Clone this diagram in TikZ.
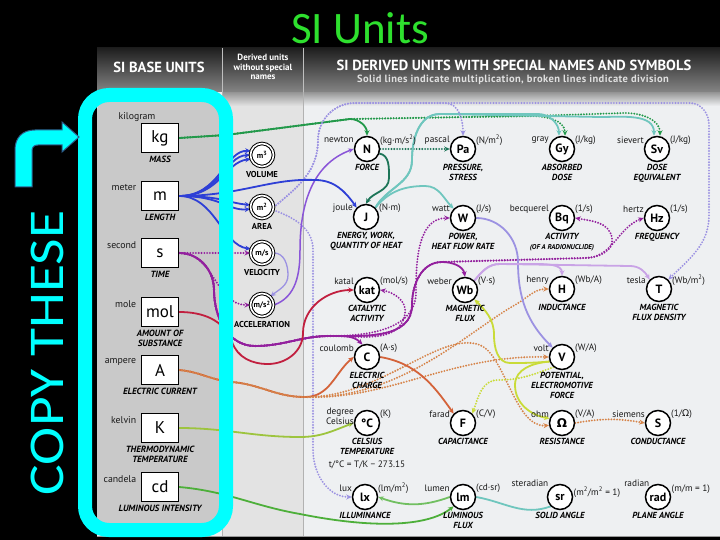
\documentclass[tikz,border=0pt]{standalone}
\usepackage{fontspec}
\setmainfont{PT Sans}
\newfontfamily\titlefont{Carlito}
\newfontfamily\symfont{DejaVu Sans}
\newfontfamily\subfont[LetterSpace=4]{PT Sans}
\usetikzlibrary{arrows.meta,calc}
\pgfdeclarelayer{bg}\pgfdeclarelayer{edges}\pgfdeclarelayer{front}
\pgfsetlayers{bg,edges,main,front}
\definecolor{kggreen}{HTML}{22994A}
\definecolor{ngreen}{HTML}{1D7558}
\definecolor{mblue}{HTML}{2E3FD6}
\definecolor{spurple}{HTML}{93209E}
\definecolor{molred}{HTML}{C11F3F}
\definecolor{aorange}{HTML}{D4633A}
\definecolor{aodot}{HTML}{D6844A}
\definecolor{kgrn}{HTML}{9DC43E}
\definecolor{cdgrn}{HTML}{4DAF3A}
\definecolor{lav}{HTML}{9C92E2}
\definecolor{accp}{HTML}{8A55D8}
\definecolor{tealc}{HTML}{6FC6BE}
\definecolor{lilac}{HTML}{C9A3E6}
\definecolor{yelc}{HTML}{C9DB38}
\definecolor{titlegreen}{HTML}{2EE02E}
\definecolor{cyanf}{HTML}{00FFFF}
\definecolor{arrowedge}{HTML}{2C5E8C}
\definecolor{leftgray}{HTML}{C9C9C9}
\definecolor{midgray}{HTML}{E3E3E3}
\definecolor{rightgray}{HTML}{EEF0F2}
\tikzset{
  tipa/.style={-{Stealth[length=5.5pt,width=5pt]}},
  sol/.style={line width=1.8pt, tipa},
  dots/.style={line width=2.1pt, line cap=round, dash pattern=on 0pt off 2.8pt, tipa},
  lbl/.style={font=\fontsize{9.3}{10}\selectfont, text=black!90, inner sep=0.5pt},
  qty/.style={font=\fontsize{8.8}{10}\selectfont\bfseries\itshape, align=center, inner sep=0pt, text=black},
  sunit/.style={circle, draw, line width=1.5pt, fill=white, minimum size=25pt, inner sep=0pt, font=\fontsize{12}{12}\selectfont\bfseries},
  dunit/.style={circle, draw, double, double distance=1.6pt, line width=1pt, fill=white, minimum size=23pt, inner sep=0pt, font=\fontsize{8}{8}\selectfont\bfseries},
  dlab/.style={font=\fontsize{8.6}{9}\selectfont\bfseries, inner sep=0pt, text=black},
  bunit/.style={rectangle, draw, line width=1.2pt, fill=white, minimum width=37pt, minimum height=29pt, inner sep=0pt, font=\fontsize{17}{17}\selectfont},
  hdr/.style={font=\fontsize{14.6}{15}\selectfont\bfseries, text=white},
  hdrs/.style={font=\fontsize{9}{9.5}\selectfont\bfseries, text=white, align=center},
}
\newcommand\SU[7]{%
  \node[sunit] (#1) at (#2,#3) {#4};
  \node[lbl, anchor=east] (#1-l) at ($(#1)+(-12.5,-9)$) {#5};
  \node[lbl, anchor=west] (#1-r) at ($(#1)+(12.5,-9)$) {#6};
  \node[qty, anchor=north] (#1-q) at ($(#1)+(0,15.5)$) {#7};
}
\newcommand\BU[5]{%
  \node[bunit] (#1) at (160,#2) {#3};
  \node[lbl, anchor=east, font=\fontsize{9.8}{10}\selectfont] (#1-l) at ($(#1.north west)+(-4,7)$) {#4};
  \node[qty, anchor=north, font=\fontsize{9}{10}\selectfont\bfseries\itshape] (#1-q) at ($(#1.south)+(0,2.5)$) {#5};
}
\newcommand\DU[4]{%
  \node[dunit] (#1) at (262,#2) {#3};
  \node[dlab, anchor=north] (#1-q) at ($(#1)+(0,16)$) {#4};
}
\begin{document}
\begin{tikzpicture}[x=1pt,y=-1pt]
\useasboundingbox (0,0) rectangle (720,540);
\begin{pgfonlayer}{bg}
\fill[black] (0,0) rectangle (720,540);
\fill[rightgray] (97,48) rectangle (720,536);
\fill[midgray] (222,92) rectangle (303,536);
\shade[top color=black!42, bottom color=rightgray] (303,92) rectangle (720,106);
\shade[top color=black!42, bottom color=midgray] (222,92) rectangle (303,106);
\draw[black!30, line width=0.8pt] (222,92) -- (222,536) (303,92) -- (303,536);
\fill[leftgray, rounded corners=12pt] (97,98) rectangle (224,530);
\shade[top color=black!88, bottom color=black!48] (97,48) rectangle (720,92);
\draw[black!25, line width=0.8pt] (222,48) -- (222,92) (303,48) -- (303,92);
\draw[black!40, line width=1pt] (97,536) -- (720,536);
\end{pgfonlayer}
% title
\node[font=\titlefont\fontsize{45}{45}\selectfont, text=titlegreen, inner sep=0pt] (title) at (360,28) {SI Units};
% header
\node[hdr] (h1) at (159,67) {SI BASE UNITS};
\node[hdrs] (h2) at (263,67) {Derived units\\without special\\names};
\node[hdr] (h3) at (514,65.5) {SI DERIVED UNITS WITH SPECIAL NAMES AND SYMBOLS};
\node[font=\subfont\fontsize{10.5}{11}\selectfont\bfseries, text=black!12] (h4) at (513,79.5) {Solid lines indicate multiplication, broken lines indicate division};
% base units
\BU{kg}{138}{kg}{}{MASS}
\node[lbl, font=\fontsize{9.8}{10}\selectfont] (kg-l2) at (137,117) {kilogram};
\BU{m}{196}{m}{meter}{LENGTH}
\BU{s}{253}{s}{second}{TIME}
\BU{mol}{312}{mol}{mole}{AMOUNT OF\\SUBSTANCE}
\BU{A}{370}{A}{ampere}{ELECTRIC CURRENT}
\BU{K}{428}{K}{kelvin}{THERMODYNAMIC\\TEMPERATURE}
\BU{cd}{487}{cd}{candela}{LUMINOUS INTENSITY}
% derived without special names
\DU{vol}{155}{m\textsuperscript{3}}{VOLUME}
\DU{area}{207}{m\textsuperscript{2}}{AREA}
\DU{vel}{253}{m/s}{VELOCITY}
\DU{acc}{305}{m/s\textsuperscript{2}}{ACCELERATION}
% special names
\SU{N}{367}{149}{N}{newton}{(kg·m/s\textsuperscript{2})}{FORCE}
\SU{Pa}{463}{149}{Pa}{pascal}{(N/m\textsuperscript{2})}{PRESSURE,\\STRESS}
\SU{Gy}{562}{149}{Gy}{gray}{(J/kg)}{ABSORBED\\DOSE}
\SU{Sv}{657}{149}{Sv}{sievert}{(J/kg)}{DOSE\\EQUIVALENT}
\SU{J}{366}{217}{J}{joule}{(N·m)}{ENERGY, WORK,\\QUANTITY OF HEAT}
\SU{W}{463}{218}{W}{watt}{(J/s)}{POWER,\\HEAT FLOW RATE}
\SU{Bq}{562}{218}{Bq}{becquerel}{(1/s)}{ACTIVITY\\{\fontsize{7}{8}\selectfont(OF A RADIONUCLIDE)}}
\SU{Hz}{657}{218}{Hz}{hertz}{(1/s)}{FREQUENCY}
\SU{kat}{367}{290}{kat}{katal}{(mol/s)}{CATALYTIC\\ACTIVITY}
\SU{Wb}{465}{290}{Wb}{weber}{(V·s)}{MAGNETIC\\FLUX}
\SU{H}{562}{289}{H}{henry}{(Wb/A)}{INDUCTANCE}
\SU{T}{659}{289}{T}{tesla}{(Wb/m\textsuperscript{2})}{MAGNETIC\\FLUX DENSITY}
\SU{C}{367}{357}{C}{coulomb}{(A·s)}{ELECTRIC\\CHARGE}
\SU{V}{562}{357}{V}{volt}{(W/A)}{POTENTIAL,\\ELECTROMOTIVE\\FORCE}
\SU{degC}{367}{423}{°C}{}{(K)}{CELSIUS\\TEMPERATURE}
\node[lbl, anchor=east, align=right, font=\fontsize{9.3}{9.5}\selectfont] (degC-l2) at ($(degC)+(-12.5,-6.5)$) {degree\\Celsius};
\node[lbl] (degC-f) at (367,465) {t/°C = T/K − 273.15};
\SU{F}{463}{423}{F}{farad}{(C/V)}{CAPACITANCE}
\SU{Ohm}{562}{423}{{\symfont\bfseries Ω}}{ohm}{(V/A)}{RESISTANCE}
\SU{S}{658}{423}{S}{siemens}{(1/{\symfont Ω})}{CONDUCTANCE}
\SU{lx}{365}{497}{lx}{lux}{(lm/m\textsuperscript{2})}{ILLUMINANCE}
\SU{lm}{463}{497}{lm}{lumen}{(cd·sr)}{LUMINOUS\\FLUX}
\SU{sr}{560}{497}{sr}{}{}{SOLID ANGLE}
\node[lbl, anchor=east] (sr-l2) at (549,483) {steradian};
\node[lbl, anchor=west] (sr-r2) at (573,492) {(m\textsuperscript{2}/m\textsuperscript{2} = 1)};
\SU{rad}{658}{497}{rad}{}{}{PLANE ANGLE}
\node[lbl, anchor=east] (rad-l2) at (650,483) {radian};
\node[lbl, anchor=west] (rad-r2) at (671,489) {(m/m = 1)};
% connectors
\begin{pgfonlayer}{edges}
% kg
\draw[sol, kggreen] (kg.east) -- (226,135) -- (350,119) to[out=0,in=90] (N.north);
\draw[dots, kggreen] (kg.east) -- (226,135) -- (350,119) -- (530,116) to[out=0,in=90] ([xshift=3pt]Gy.north);
\draw[dots, kggreen] (kg.east) -- (226,135) -- (350,119) -- (530,116) -- (625,113) to[out=0,in=90] ([xshift=3pt]Sv.north);
% N
\draw[dots, ngreen] (N.east) -- (Pa.west);
\draw[sol, ngreen] (N.-20) to[out=-10,in=90] (389,178) to[out=-90,in=60] (J.north);
% J teal
\draw[sol, tealc] (J.45) to[out=60,in=-90] (412,160) to[out=90,in=180] (440,114) -- (538,114) to[out=0,in=90] ([xshift=-3pt]Gy.north);
\draw[sol, tealc] (J.45) to[out=60,in=-90] (412,160) to[out=90,in=180] (440,114) -- (600,117) to[out=0,in=90] ([xshift=-3pt]Sv.north);
\draw[sol, tealc] (J.45) to[out=50,in=180] (425,186) to[out=0,in=135] (W.north west);
% area lavender dotted
\draw[dots, lav] (area.east) to[out=40,in=-90] (318,140) to[out=90,in=180] (355,103) -- (445,103) to[out=0,in=90] (Pa.north);
\draw[dots, lav] (area.east) to[out=40,in=-90] (318,140) to[out=90,in=180] (355,103) -- (690,103) to[out=0,in=90] (709,125) -- (709,215) to[out=-90,in=45] (T.north east);
\draw[dots, lav] (area.-15) to[out=-20,in=90] (313,250) -- (313,450) to[out=-90,in=180] (lx.west);
% velocity, acceleration
\draw[sol, lav, line width=1.3pt] (vel.east) to[out=0,in=90] (288,275) to[out=-90,in=40] (acc.north east);
\draw[sol, accp, line width=1.5pt] (acc.east) to[out=20,in=-90] (300,250) to[out=90,in=200] (N.west);
% m blue
\draw[sol, mblue] (m.east) .. controls (220,196) and (225,150) .. (vol.160);
\draw[sol, mblue] (m.east) .. controls (220,196) and (225,156) .. (vol.west);
\draw[sol, mblue] (m.east) .. controls (220,196) and (225,162) .. (vol.200);
\draw[sol, mblue] (m.east) .. controls (222,196) and (228,203) .. (area.170);
\draw[sol, mblue] (m.east) .. controls (222,196) and (228,211) .. (area.190);
\draw[sol, mblue] (m.east) .. controls (215,196) and (222,245) .. (vel.160);
\draw[sol, mblue] (m.east) .. controls (240,196) and (270,178) .. (315,180) to[out=0,in=125] (J.north west);
% s purple
\draw[dots, spurple] (s.east) -- (vel.west);
\draw[dots, spurple] (s.east) .. controls (215,253) and (215,305) .. (acc.west);
\draw[sol, spurple] (s.east) to[out=0,in=90] (214,290) to[out=-90,in=180] (255,346) to[out=0,in=180] (330,336) to[out=0,in=135] (C.110);
\draw[sol, spurple] (s.east) to[out=0,in=90] (214,290) to[out=-90,in=180] (255,346) to[out=0,in=180] (330,336) to[out=0,in=-90] (412,305) to[out=90,in=180] (442,262) to[out=0,in=100] (Wb.north);
\draw[dots, spurple] (s.east) to[out=0,in=90] (214,290) to[out=-90,in=180] (255,346) to[out=0,in=180] (330,336) to[out=0,in=-100] (405,314) to[out=80,in=-10] (kat.east);
\draw[dots, spurple] (s.east) to[out=0,in=90] (214,290) to[out=-90,in=180] (255,346) to[out=0,in=180] (330,336) to[out=0,in=-90] (416,292) to[out=90,in=180] (W.west);
\draw[dots, spurple] (s.east) to[out=0,in=90] (214,290) to[out=-90,in=180] (255,346) to[out=0,in=180] (330,336) to[out=0,in=-90] (412,305) to[out=90,in=180] (442,262) -- (585,258) to[out=0,in=200] (Hz.west);
\draw[dots, spurple] (s.east) to[out=0,in=90] (214,290) to[out=-90,in=180] (255,346) to[out=0,in=180] (330,336) to[out=0,in=-90] (412,305) to[out=90,in=180] (442,262) -- (585,258) to[out=0,in=-80] (612,238) to[out=100,in=-10] (Bq.east);
% mol
\draw[sol, molred] (mol.east) to[out=0,in=110] (232,342) to[out=-70,in=180] (268,364) to[out=0,in=-90] (303,333) to[out=90,in=180] (kat.west);
% A orange
\draw[sol, aorange] (A.east) to[out=-5,in=175] (232,382) to[out=-5,in=180] (305,397) to[out=0,in=-140] (C.west);
\draw[dots, aodot] (A.east) to[out=-5,in=175] (232,382) to[out=-5,in=180] (305,397) .. controls (390,400) and (450,355) .. (V.west);
\draw[dots, aodot] (A.east) to[out=-5,in=175] (232,382) to[out=-5,in=180] (305,397) .. controls (400,400) and (470,330) .. (515,305) to[out=30,in=180] (H.west);
\draw[dots, aodot] (A.east) to[out=-5,in=175] (232,382) to[out=-5,in=180] (305,397) .. controls (380,398) and (440,330) .. (480,345) .. controls (505,355) and (515,428) .. (Ohm.190);
\draw[sol, aorange] (C.east) to[out=-10,in=125] (F.north west);
\draw[dots, aodot] (Ohm.east) to[out=10,in=170] (S.west);
% W, Wb
\draw[sol, lav] (W.east) to[out=0,in=90] (518,262) to[out=-90,in=135] (V.north west);
\draw[sol, lilac] (Wb.north east) to[out=50,in=180] (500,264) -- (535,264) to[out=0,in=90] (H.north);
\draw[sol, lilac] (Wb.north east) to[out=50,in=180] (500,264) -- (630,266) to[out=0,in=120] (T.north west);
% V yellow
\draw[sol, yelc] (V.200) to[out=185,in=0] (510,363) to[out=180,in=-90] (494,335) to[out=90,in=-45] (Wb.south east);
\draw[sol, yelc] (V.200) to[out=185,in=90] (515,385) to[out=-90,in=170] (Ohm.160);
\draw[dots, yelc] (V.230) to[out=200,in=0] (498,380) to[out=180,in=70] (F.north east);
% K, cd, lm
\draw[sol, kgrn] (K.east) to[out=0,in=180] (300,437) to[out=0,in=200] (degC.west);
\draw[sol, cdgrn] (cd.east) to[out=-5,in=170] (300,514) .. controls (380,530) and (430,525) .. (lm.south west);
\draw[sol, cdgrn!80!white] (lm.west) to[out=200,in=-20] (lx.east);
\draw[sol, tealc, -] (lm.east) to[out=-10,in=200] (sr.south west);
\end{pgfonlayer}
% front: cyan frame and arrow
\begin{pgfonlayer}{front}
\draw[cyanf, line width=14pt, rounded corners=24pt] (85,95) rectangle (226,530);
\filldraw[fill=cyanf, draw=arrowedge, line width=1pt] (15,187) -- (15,150) .. controls (15,138) and (22,130) .. (35,130) -- (62,130) -- (62,122) -- (79,137) -- (62,152) -- (62,145) -- (38,145) .. controls (34,145) and (32,147) .. (32,151) -- (32,187) -- cycle;
\node[rotate=90, text=cyanf, font=\titlefont\fontsize{50}{50}\selectfont, inner sep=0pt] (copy) at (47,353) {\scalebox{1.15}[1]{COPY THESE}};
\end{pgfonlayer}
\end{tikzpicture}
\end{document}
